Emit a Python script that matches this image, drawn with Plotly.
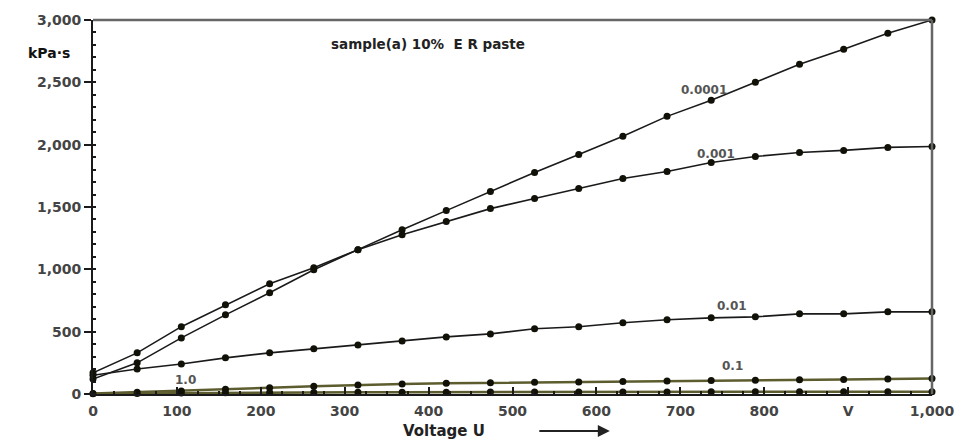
import plotly.graph_objects as go

voltage = [i * 1000 / 19 for i in range(20)]

s_0001 = [120, 250, 450, 635, 812, 997, 1158, 1318, 1471, 1624, 1777, 1922, 2067, 2227, 2356, 2500, 2645, 2766, 2894, 3000]
s_001 = [170, 330, 540, 715, 885, 1013, 1158, 1278, 1383, 1487, 1568, 1648, 1729, 1785, 1857, 1905, 1937, 1954, 1978, 1985]
s_01 = [150, 200, 240, 290, 330, 362, 394, 426, 458, 482, 523, 539, 571, 595, 611, 619, 643, 643, 659, 659]
s_1 = [5, 15, 25, 38, 50, 62, 72, 80, 86, 90, 94, 97, 100, 104, 108, 111, 114, 117, 120, 124]
s_10 = [2, 5, 8, 10, 12, 13, 14, 15, 15, 16, 16, 17, 17, 17, 18, 18, 18, 18, 19, 19]

x_tickvals = [0, 100, 200, 300, 400, 500, 600, 700, 800, 900, 1000]
x_ticktext = ["0", "100", "200", "300", "400", "500", "600", "700", "800", "V", "1,000"]
y_tickvals = [0, 500, 1000, 1500, 2000, 2500, 3000]
y_ticktext = ["0", "500", "1,000", "1,500", "2,000", "2,500", "3,000"]

series = [
    ("0.0001", s_0001, "#1a1a1a", 1.6),
    ("0.001", s_001, "#1a1a1a", 1.6),
    ("0.01", s_01, "#1a1a1a", 1.6),
    ("0.1", s_1, "#5c5c2e", 2.5),
    ("1.0", s_10, "#5c5c2e", 2.5),
]

FONT = "DejaVu Sans"
fig = go.Figure()
for name, ys, col, w in series:
    fig.add_trace(go.Scatter(
        x=voltage, y=ys, mode="lines+markers", name=name,
        line=dict(color=col, width=w),
        marker=dict(color="#111108", size=7),
        cliponaxis=False, showlegend=False,
    ))

labels = [
    ("0.0001", 728, 2435),
    ("0.001", 743, 1925),
    ("0.01", 762, 705),
    ("0.1", 762, 225),
    ("1.0", 110, 115),
]
for txt, lx, ly in labels:
    fig.add_annotation(x=lx, y=ly, text=txt, showarrow=False,
                       font=dict(family=FONT, size=12, color="#555555", weight="bold"))

fig.add_annotation(x=399, y=2810, text="sample(a) 10%&nbsp;&nbsp;E R paste", showarrow=False,
                   font=dict(family=FONT, size=13.5, color="#222222", weight="bold"))
fig.add_annotation(x=-0.053, y=0.913, xref="paper", yref="paper", xanchor="center", yanchor="middle",
                   text="kPa·s", showarrow=False,
                   font=dict(family=FONT, size=14, color="#111111", weight="bold"))
fig.add_annotation(x=0.418, y=-0.099, xref="paper", yref="paper", xanchor="center", yanchor="middle",
                   text="Voltage U", showarrow=False,
                   font=dict(family=FONT, size=15, color="#222222", weight="bold"))
fig.add_annotation(x=0.616, y=-0.099, xref="paper", yref="paper", text="", showarrow=True,
                   ax=-72, ay=0, arrowhead=2, arrowsize=1.2, arrowwidth=2, arrowcolor="#222222")

# frame top and right
fig.add_shape(type="line", xref="paper", yref="paper", x0=0, x1=1, y0=1, y1=1,
              line=dict(color="#666666", width=2.5))
fig.add_shape(type="line", xref="paper", yref="paper", x0=1, x1=1, y0=0, y1=1,
              line=dict(color="#666666", width=2.5))

fig.update_xaxes(range=[0, 1000], tickvals=x_tickvals, ticktext=x_ticktext, automargin=False,
                 showgrid=False, zeroline=False, showline=True, linecolor="#1a1a1a", linewidth=2,
                 ticks="inside", ticklen=7, tickwidth=2, tickcolor="#1a1a1a", ticklabelstandoff=3,
                 minor=dict(dtick=25, ticks="inside", ticklen=3, tickcolor="#1a1a1a", tickwidth=1.5),
                 tickfont=dict(family=FONT, size=14, color="#444444", weight="bold"))
fig.update_yaxes(range=[0, 3000], tickvals=y_tickvals, ticktext=y_ticktext, automargin=False,
                 showgrid=False, zeroline=False, showline=True, linecolor="#1a1a1a", linewidth=2,
                 ticks="outside", ticklen=7, tickwidth=2, tickcolor="#1a1a1a",
                 minor=dict(dtick=100, ticks="inside", ticklen=3, tickcolor="#1a1a1a", tickwidth=1.5),
                 tickfont=dict(family=FONT, size=14, color="#444444", weight="bold"))

fig.update_layout(width=961, height=439, margin=dict(l=93, r=29, t=20, b=45),
                  plot_bgcolor="white", paper_bgcolor="white")
fig.write_html("out.html")
